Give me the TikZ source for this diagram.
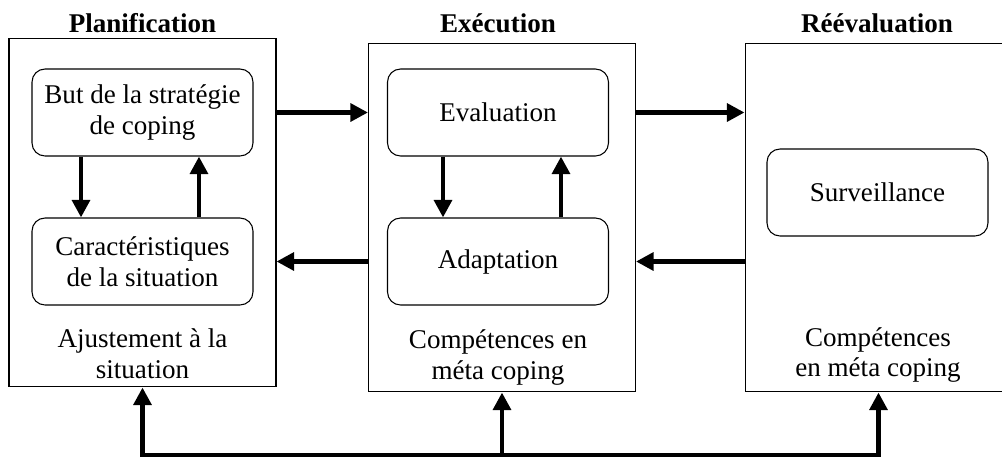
\documentclass[tikz,border=0pt]{standalone}
\usepackage{fontspec}
\setmainfont{Liberation Serif}
\usetikzlibrary{arrows.meta}

\begin{document}
\begin{tikzpicture}[x=0.02cm,y=-0.02cm,>={Triangle[width=10pt,length=10pt]},every node/.style={font=\fontsize{15.4pt}{17.6pt}\selectfont,align=center},phase node/.style={draw,line width=0.6pt,minimum width=5.34cm,minimum height=6.98cm},task node/.style={draw,line width=0.6pt,rounded corners=0.26cm,minimum width=4.42cm,minimum height=1.74cm},title node/.style={font=\fontsize{15.4pt}{17.6pt}\selectfont\bfseries},flow/.style={->,line width=2.8pt}]
  \useasboundingbox (0,0) rectangle (1002,457);
  \clip (0,0) rectangle (1002,457);

  \node[phase node] (planif) at (142.5,212.5) {};
  \node[phase node] (exec) at (502,217.5) {};
  \node[phase node] (reeval) at (878.5,217.5) {};

  \node[title node] (tplanif) at (142.5,23) {Planification};
  \node[title node] (texec) at (498,23) {Exécution};
  \node[title node] (treeval) at (877,23) {Réévaluation};

  \node[task node] (but) at (142.5,112.5) {But de la stratégie\\de coping};
  \node[task node] (carac) at (142.5,261.5) {Caractéristiques\\de la situation};
  \node[task node] (eval) at (498,112.5) {Evaluation};
  \node[task node] (adapt) at (498,261.5) {Adaptation};
  \node[task node] (surv) at (877.5,192.5) {Surveillance};

  \node (ajust) at (142.5,354) {Ajustement à la\\situation};
  \node (compexec) at (498,357.5) {Compétences en\\méta coping};
  \node (compreeval) at (878,355) {Compétences\\en méta coping};

  \coordinate (loop) at (502,455);

  \draw[flow] ([xshift=-1.23cm]but.south) -- ([xshift=-1.23cm]carac.north);
  \draw[flow] ([xshift=1.13cm]carac.north) -- ([xshift=1.13cm]but.south);
  \draw[flow] ([xshift=-1.1cm]eval.south) -- ([xshift=-1.1cm]adapt.north);
  \draw[flow] ([xshift=1.26cm]adapt.north) -- ([xshift=1.26cm]eval.south);

  \draw[flow] (planif.east |- but) -- (exec.west |- but);
  \draw[flow] (exec.west |- adapt) -- (planif.east |- adapt);
  \draw[flow] (exec.east |- eval) -- (reeval.west |- eval);
  \draw[flow] (reeval.west |- adapt) -- (exec.east |- adapt);

  \draw[flow,<->] (planif.south) -- (planif.south |- loop) -- (reeval.south |- loop) -- (reeval.south);
  \draw[flow] (loop) -- (exec.south);
\end{tikzpicture}
\end{document}
